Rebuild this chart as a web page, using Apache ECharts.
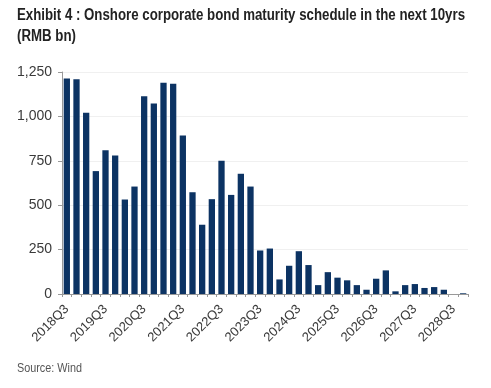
<!DOCTYPE html>
<html><head><meta charset="utf-8">
<script src="https://cdn.jsdelivr.net/npm/echarts@6/dist/echarts.min.js"></script>
<style>html,body{margin:0;padding:0;background:#fff}#c{width:491px;height:388px}</style>
</head><body><div id="c"></div>
<script>
var categories = [];
(function(){
  var qs = ['Q1','Q2','Q3','Q4'];
  for (var y = 2018; y <= 2028; y++) for (var q = 0; q < 4; q++) {
    if (y === 2018 && q < 2) continue;
    categories.push(y + qs[q]);
  }
})();
var maturities = [1214,1209,1021,692,810,780,532,605,1113,1072,1190,1184,892,573,390,534,750,558,677,605,245,256,82,159,241,163,50,123,92,77,50,24,86,133,15,50,56,34,39,24,0,4];
var yTicks = [0,250,500,750,1000,1250];
var titleText = 'Exhibit 4 : Onshore corporate bond maturity schedule in the next 10yrs';
var subTitleText = '(RMB bn)';
var sourceText = 'Source: Wind';

var titleFont = 'bold 16px "Liberation Sans", Arial, sans-serif';
var srcFont = '12px "Liberation Sans", Arial, sans-serif';
var ctx = document.createElement('canvas').getContext('2d');
function fitScale(text, font, w){ ctx.font = font; return w / ctx.measureText(text).width; }
var tScale = fitScale(titleText, titleFont, 448);
var sScale = fitScale(sourceText, srcFont, 65);

var chart = echarts.init(document.getElementById('c'));
chart.setOption({
  animation:false,
  graphic:[
    {type:'text',x:17,y:8,scaleX:tScale,style:{text:titleText,font:titleFont,fill:'#222',textVerticalAlign:'top'}},
    {type:'text',x:17,y:29,scaleX:tScale,style:{text:subTitleText,font:titleFont,fill:'#222',textVerticalAlign:'top'}},
    {type:'text',x:17,y:363,scaleX:sScale,style:{text:sourceText,font:srcFont,fill:'#555',textVerticalAlign:'top'}}
  ],
  grid:{left:62,right:23,top:72,bottom:94,containLabel:false},
  xAxis:{type:'category',data:categories,
    axisLine:{lineStyle:{color:'#999'}},
    axisTick:{show:true,interval:0,length:3,lineStyle:{color:'#999'}},
    axisLabel:{interval:3,rotate:45,color:'#3a3a3a',fontSize:13,fontFamily:'"Liberation Sans", Arial, sans-serif',margin:13}},
  yAxis:{type:'value',min:0,max:1250,interval:250,
    axisLine:{show:true,lineStyle:{color:'#999'}},
    axisTick:{show:true,length:4,lineStyle:{color:'#999'}},
    splitLine:{lineStyle:{color:'#f0f0f0'}},
    axisLabel:{color:'#3a3a3a',fontSize:14,fontFamily:'"Liberation Sans", Arial, sans-serif',margin:10,
      formatter:function(v){return yTicks.indexOf(v)>=0 ? v.toLocaleString('en-US') : '';}}},
  series:[{type:'bar',data:maturities,barCategoryGap:'35%',itemStyle:{color:'#0c3363'}}]
});
</script></body></html>
